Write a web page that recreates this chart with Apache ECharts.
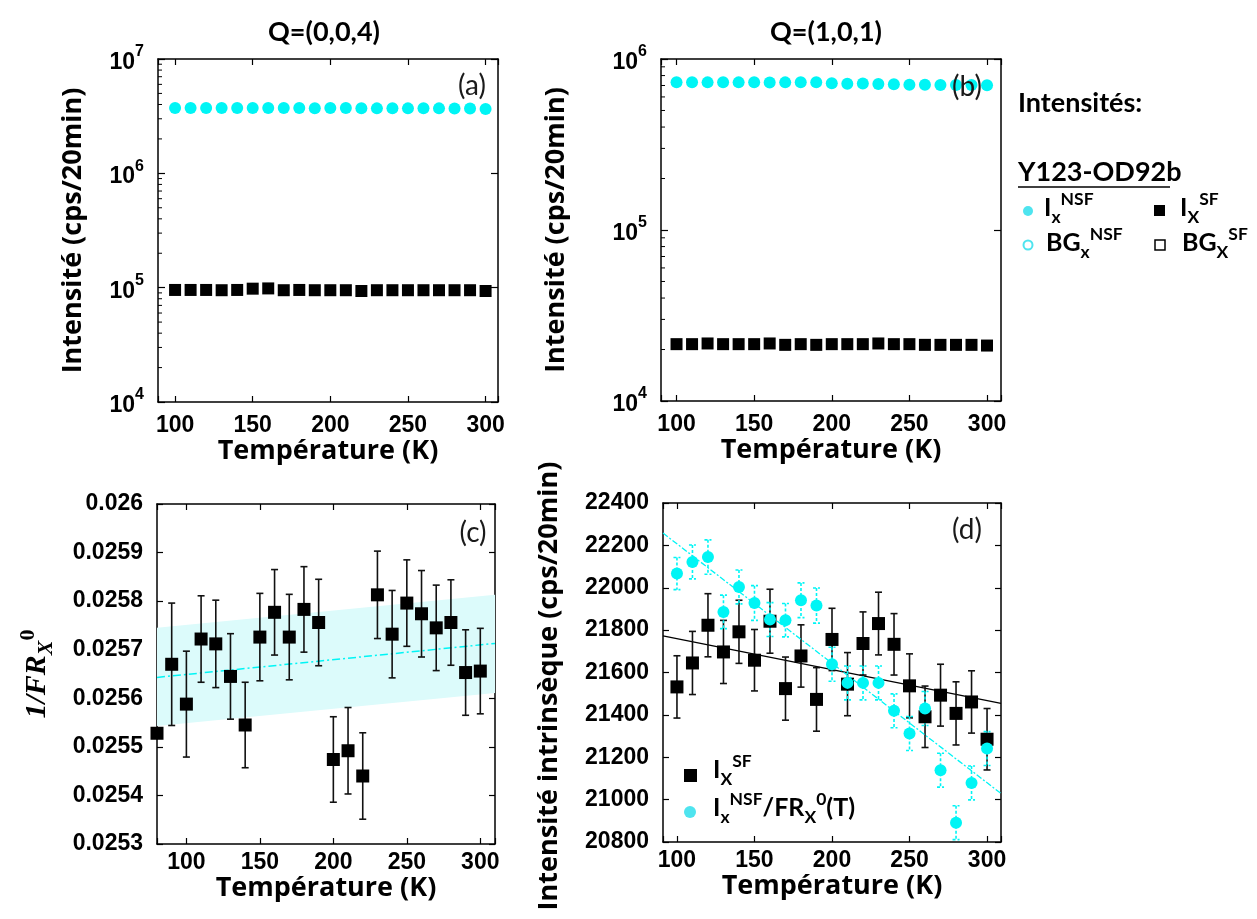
<!DOCTYPE html>
<html>
<head>
<meta charset="utf-8">
<script src="https://cdn.jsdelivr.net/npm/echarts@6/dist/echarts.min.js"></script>
<style>
  html, body { margin: 0; padding: 0; background: #fff; }
  #chart { width: 1257px; height: 919px; }
</style>
</head>
<body>
<div id="chart"></div>
<script>
// temperatures (K)
var tempAB = [100, 110, 120, 130, 140, 150, 160, 170, 180, 190, 200, 210, 220, 230, 240, 250, 260, 270, 280, 290, 300];
var tempC = [80, 90, 100, 110, 120, 130, 140, 150, 160, 170, 180, 190, 200, 210, 220, 230, 240, 250, 260, 270, 280, 290, 300];

// (a) Q=(0,0,4)
var nsfA = [3.73e6, 3.72e6, 3.72e6, 3.73e6, 3.72e6, 3.72e6, 3.73e6, 3.72e6, 3.72e6, 3.71e6, 3.72e6, 3.72e6, 3.71e6, 3.70e6, 3.71e6, 3.70e6, 3.71e6, 3.70e6, 3.69e6, 3.69e6, 3.66e6];
var sfA = [9.55e4, 9.55e4, 9.55e4, 9.5e4, 9.55e4, 9.8e4, 9.85e4, 9.5e4, 9.55e4, 9.5e4, 9.5e4, 9.5e4, 9.35e4, 9.5e4, 9.5e4, 9.5e4, 9.5e4, 9.5e4, 9.5e4, 9.5e4, 9.35e4];

// (b) Q=(1,0,1)
var nsfB = [7.32e5, 7.32e5, 7.30e5, 7.31e5, 7.30e5, 7.31e5, 7.29e5, 7.30e5, 7.32e5, 7.31e5, 7.21e5, 7.17e5, 7.18e5, 7.15e5, 7.12e5, 7.08e5, 7.06e5, 7.05e5, 7.05e5, 7.04e5, 7.03e5];
var sfB = [2.15e4, 2.15e4, 2.17e4, 2.15e4, 2.15e4, 2.15e4, 2.17e4, 2.13e4, 2.15e4, 2.13e4, 2.15e4, 2.15e4, 2.15e4, 2.17e4, 2.15e4, 2.15e4, 2.13e4, 2.13e4, 2.13e4, 2.13e4, 2.11e4];

// (c) 1/FR_X^0
var invFR = [0.025528, 0.025670, 0.025588, 0.025722, 0.025712, 0.025645, 0.025545, 0.025726, 0.025777, 0.025726, 0.025783, 0.025756, 0.025474, 0.025492, 0.025440, 0.025813, 0.025732, 0.025796, 0.025774, 0.025745, 0.025756, 0.025653, 0.025656];
var invFRErr = [null, 0.000126, 0.000109, 0.000089, 0.00009, 0.000088, 0.000088, 0.00009, 0.000088, 0.000088, 0.000088, 0.000089, 0.000088, 0.000089, 0.000089, 0.00009, 0.00009, 0.000089, 0.000089, 0.000088, 0.000088, 0.000088, 0.000088];
var fitCX = [80, 310];
var fitC = [0.025643, 0.025713];
var bandCLo = [0.025543, 0.025611];
var bandCHi = [0.025745, 0.025813];

// (d) intensite intrinseque
var sfD = [21532, 21645, 21823, 21697, 21792, 21658, 21842, 21524, 21678, 21473, 21756, 21545, 21737, 21831, 21733, 21537, 21391, 21493, 21407, 21461, 21285];
var sfDErr = [147, 149, 149, 149, 149, 145, 151, 149, 147, 150, 147, 149, 149, 148, 145, 151, 145, 146, 149, 147, 145];
var nsfD = [22067, 22122, 22145, 21886, 22004, 21928, 21850, 21847, 21941, 21916, 21639, 21551, 21551, 21551, 21419, 21312, 21430, 21139, 20891, 21079, 21241];
var nsfDErr = [76, 80, 81, 79, 80, 82, 80, 79, 82, 83, 80, 80, 80, 80, 80, 80, 80, 80, 80, 80, 80];
var fitDX = [91, 309];
var fitSfD = [21773, 21454];
var fitNsfD = [22258, 21029];

var CYAN = '#00f5f5';
var CYAN_TXT = '#4ee4ef';
var TICK_FONT = 'Liberation Sans';
var TXT_FONT = 'Lato';
var AXT_FONT = 'Open Sans';

function pairs(xs, ys) {
  return xs.map(function (x, i) { return [x, ys[i]]; });
}
function errData(xs, ys, es) {
  var out = [];
  xs.forEach(function (x, i) {
    if (es[i] != null) out.push([x, ys[i] - es[i], ys[i] + es[i]]);
  });
  return out;
}
function logMinors(lo, hi) {
  var out = [];
  for (var d = lo; d < hi; d *= 10) {
    for (var k = 2; k <= 9; k++) out.push(d * k);
  }
  return out;
}

function errRender(color, dash) {
  return function (params, api) {
    var x = api.value(0);
    var a = api.coord([x, api.value(2)]);
    var b = api.coord([x, api.value(1)]);
    var w = 3.5;
    var st = { stroke: color, lineWidth: 1.6, lineDash: dash || null };
    return {
      type: 'group',
      children: [
        { type: 'line', shape: { x1: a[0], y1: a[1], x2: b[0], y2: b[1] }, style: st },
        { type: 'line', shape: { x1: a[0] - w, y1: a[1], x2: a[0] + w, y2: a[1] }, style: st },
        { type: 'line', shape: { x1: b[0] - w, y1: b[1], x2: b[0] + w, y2: b[1] }, style: st }
      ]
    };
  };
}

function minorRender(xAt) {
  return function (params, api) {
    var p = api.coord([xAt, api.value(0)]);
    return {
      type: 'line',
      shape: { x1: p[0], y1: p[1], x2: p[0] + 4, y2: p[1] },
      style: { stroke: '#000', lineWidth: 1 }
    };
  };
}

var tickLabel = { color: '#000', fontFamily: TICK_FONT, fontWeight: 'bold', fontSize: 23 };
var nameStyle = { color: '#000', fontFamily: AXT_FONT, fontWeight: 'bold', fontSize: 27 };
var axLine = { show: true, lineStyle: { color: '#000', width: 1.5 } };

function xAxes(grid, min, max, margin, gap) {
  return [{
    type: 'value', gridIndex: grid, min: min, max: max, splitNumber: 4,
    position: 'bottom',
    axisLine: axLine, splitLine: { show: false },
    axisTick: { inside: true, length: 6, lineStyle: { color: '#000', width: 1.2 } },
    axisLabel: Object.assign({ margin: margin, formatter: function (v) { return v % 50 === 0 ? v : ''; } }, tickLabel),
    name: 'Température (K)', nameLocation: 'middle', nameGap: gap, nameTextStyle: nameStyle
  }, {
    type: 'value', gridIndex: grid, min: min, max: max, splitNumber: 4,
    position: 'top',
    axisLine: axLine, splitLine: { show: false },
    axisTick: { inside: true, length: 6, lineStyle: { color: '#000', width: 1.2 } },
    axisLabel: { show: false }
  }];
}

var supRich = {
  b: { fontFamily: TICK_FONT, fontWeight: 'bold', fontSize: 23, color: '#000', lineHeight: 30, verticalAlign: 'bottom' },
  sup: { fontFamily: TICK_FONT, fontWeight: 'bold', fontSize: 16, color: '#000', lineHeight: 16, verticalAlign: 'top' }
};

function logYAxes(grid, min, max, name, gap) {
  return [{
    type: 'log', logBase: 10, gridIndex: grid, min: min, max: max, position: 'left',
    axisLine: axLine, splitLine: { show: false },
    axisTick: { inside: true, length: 7, lineStyle: { color: '#000', width: 1.2 } },
    axisLabel: {
      margin: 14,
      formatter: function (v) { return '{b|10}{sup|' + Math.round(Math.log10(v)) + '}'; },
      rich: supRich
    },
    name: name, nameLocation: 'middle', nameGap: gap, nameRotate: 90, nameTextStyle: nameStyle
  }, {
    type: 'log', logBase: 10, gridIndex: grid, min: min, max: max, position: 'right',
    axisLine: axLine, splitLine: { show: false },
    axisTick: { inside: true, length: 7, lineStyle: { color: '#000', width: 1.2 } },
    axisLabel: { show: false }
  }];
}

function linYAxes(grid, min, max, interval, fmt, name, gap, nameTS) {
  return [{
    type: 'value', gridIndex: grid, min: min, max: max, interval: interval, position: 'left',
    axisLine: axLine, splitLine: { show: false },
    axisTick: { inside: true, length: 6, lineStyle: { color: '#000', width: 1.2 } },
    axisLabel: Object.assign({ margin: 14, formatter: fmt }, tickLabel),
    name: name, nameLocation: 'middle', nameGap: gap, nameRotate: 90, nameTextStyle: nameTS
  }, {
    type: 'value', gridIndex: grid, min: min, max: max, interval: interval, position: 'right',
    axisLine: axLine, splitLine: { show: false },
    axisTick: { inside: true, length: 6, lineStyle: { color: '#000', width: 1.2 } },
    axisLabel: { show: false }
  }];
}

var frRich = {
  f: { fontFamily: 'Liberation Serif', fontStyle: 'italic', fontWeight: 'bold', fontSize: 30, color: '#000', lineHeight: 40, verticalAlign: 'middle' },
  sub: { fontFamily: 'Liberation Serif', fontStyle: 'italic', fontWeight: 'bold', fontSize: 22, color: '#000', lineHeight: 22, verticalAlign: 'bottom' },
  sup: { fontFamily: 'Liberation Serif', fontWeight: 'bold', fontSize: 22, color: '#000', lineHeight: 22, verticalAlign: 'top' }
};

var xAxis = [].concat(
  xAxes(0, 89, 308, 12, 34),
  xAxes(1, 90, 309, 12, 34),
  xAxes(2, 80, 310, 7, 27),
  xAxes(3, 91, 309, 7, 27)
);
var yAxis = [].concat(
  logYAxes(0, 1e4, 1e7, 'Intensité (cps/20min)', 71),
  logYAxes(1, 1e4, 1e6, 'Intensité (cps/20min)', 91),
  linYAxes(2, 0.0253, 0.026, 0.0001, function (v) { return +v.toFixed(4) + ''; },
    '{f|1/FR}{sub|X}{sup|0}', 100, { rich: frRich }),
  linYAxes(3, 20800, 22400, 200, function (v) { return v; }, '', 0, nameStyle)
);

function sq(xi, yi, data, size) {
  return { type: 'scatter', xAxisIndex: xi, yAxisIndex: yi, data: data, symbol: 'rect', symbolSize: size || 12,
    itemStyle: { color: '#000', opacity: 1 }, silent: true, z: 5 };
}
function circ(xi, yi, data, size) {
  return { type: 'scatter', xAxisIndex: xi, yAxisIndex: yi, data: data, symbol: 'circle', symbolSize: size || 12,
    itemStyle: { color: CYAN, opacity: 1 }, silent: true, z: 6 };
}

var series = [
  // (a)
  { type: 'custom', xAxisIndex: 0, yAxisIndex: 0, data: logMinors(1e4, 1e7).map(function (v) { return [v]; }),
    renderItem: minorRender(89), encode: { y: 0 }, silent: true },
  circ(0, 0, pairs(tempAB, nsfA)),
  sq(0, 0, pairs(tempAB, sfA)),
  // (b)
  { type: 'custom', xAxisIndex: 2, yAxisIndex: 2, data: logMinors(1e4, 1e6).map(function (v) { return [v]; }),
    renderItem: minorRender(90), encode: { y: 0 }, silent: true },
  circ(2, 2, pairs(tempAB, nsfB)),
  sq(2, 2, pairs(tempAB, sfB)),
  // (c) confidence band
  { type: 'custom', xAxisIndex: 4, yAxisIndex: 4, data: [[0]], silent: true, z: 1,
    renderItem: function (params, api) {
      var pts = [];
      fitCX.forEach(function (x, i) { pts.push(api.coord([x, bandCHi[i]])); });
      for (var i = fitCX.length - 1; i >= 0; i--) pts.push(api.coord([fitCX[i], bandCLo[i]]));
      return { type: 'polygon', shape: { points: pts }, style: { fill: '#dcfbfb' } };
    } },
  { type: 'line', xAxisIndex: 4, yAxisIndex: 4, data: pairs(fitCX, fitC), showSymbol: false, silent: true, z: 2,
    lineStyle: { color: CYAN, width: 1.5, type: [8, 3, 2, 3] } },
  { type: 'custom', xAxisIndex: 4, yAxisIndex: 4, data: errData(tempC, invFR, invFRErr),
    renderItem: errRender('#111'), encode: { x: 0, y: [1, 2] }, silent: true, z: 3 },
  sq(4, 4, pairs(tempC, invFR), 13),
  // (d)
  { type: 'line', xAxisIndex: 6, yAxisIndex: 6, data: pairs(fitDX, fitSfD), showSymbol: false, silent: true, z: 2,
    lineStyle: { color: '#000', width: 1.3 } },
  { type: 'line', xAxisIndex: 6, yAxisIndex: 6, data: pairs(fitDX, fitNsfD), showSymbol: false, silent: true, z: 7,
    lineStyle: { color: CYAN, width: 1.3, type: [6, 2, 2, 2] } },
  { type: 'custom', xAxisIndex: 6, yAxisIndex: 6, data: errData(tempAB, sfD, sfDErr),
    renderItem: errRender('#111'), encode: { x: 0, y: [1, 2] }, silent: true, z: 3 },
  sq(6, 6, pairs(tempAB, sfD), 13),
  { type: 'custom', xAxisIndex: 6, yAxisIndex: 6, data: errData(tempAB, nsfD, nsfDErr),
    renderItem: errRender(CYAN, [3, 2]), encode: { x: 0, y: [1, 2] }, silent: true, z: 5 },
  circ(6, 6, pairs(tempAB, nsfD), 12)
];

function rt(color, size) {
  size = size || 25;
  return {
    b: { fontFamily: TXT_FONT, fontWeight: 'bold', fontSize: size, color: color, lineHeight: 36, verticalAlign: 'middle' },
    sub: { fontFamily: TXT_FONT, fontWeight: 'bold', fontSize: size * 0.7, color: color, lineHeight: size * 0.7, verticalAlign: 'bottom' },
    sup: { fontFamily: TXT_FONT, fontWeight: 'bold', fontSize: size * 0.7, color: color, lineHeight: size * 0.7, verticalAlign: 'top' }
  };
}
function richText(x, y, text, color, size) {
  return { type: 'text', left: x, top: y - 18, style: { text: text, rich: rt(color, size) }, z: 100 };
}
function plain(x, y, text, opts) {
  return { type: 'text', x: x, y: y, style: Object.assign({ text: text, fill: '#000', fontFamily: TXT_FONT,
    fontWeight: 'bold', fontSize: 26, align: 'center', verticalAlign: 'middle' }, opts || {}), z: 100 };
}

var graphic = [
  plain(324, 32, 'Q=(0,0,4)', { fontSize: 27 }),
  plain(826, 32, 'Q=(1,0,1)', { fontSize: 27 }),
  plain(472, 86, '(a)', { fontWeight: 'normal', fontSize: 28, fill: '#1a1a1a' }),
  plain(967, 87, '(b)', { fontWeight: 'normal', fontSize: 28, fill: '#1a1a1a' }),
  plain(473, 533, '(c)', { fontWeight: 'normal', fontSize: 28, fill: '#1a1a1a' }),
  plain(967, 530, '(d)', { fontWeight: 'normal', fontSize: 28, fill: '#1a1a1a' }),
  // y title of (d), placed like the original (slightly below the axis centre)
  { type: 'text', x: 549, y: 686, rotation: Math.PI / 2, z: 100,
    style: { text: 'Intensité intrinsèque (cps/20min)', fill: '#000', fontFamily: AXT_FONT, fontWeight: 'bold',
      fontSize: 27, align: 'center', verticalAlign: 'middle' } },
  // right-hand legend
  plain(1018, 103, 'Intensités:', { align: 'left', fontSize: 27 }),
  plain(1018, 172, 'Y123-OD92b', { align: 'left', fontSize: 27 }),
  { type: 'line', shape: { x1: 1018, y1: 187, x2: 1170, y2: 187 }, style: { stroke: '#000', lineWidth: 1.5 } },
  { type: 'circle', shape: { cx: 1028, cy: 211, r: 5 }, style: { fill: CYAN_TXT } },
  richText(1044, 208, '{b|I}{sub|x}{sup|NSF}', CYAN_TXT),
  { type: 'rect', shape: { x: 1154, y: 205, width: 11, height: 11 }, style: { fill: '#000' } },
  richText(1180, 208, '{b|I}{sub|X}{sup|SF}', '#000'),
  { type: 'circle', shape: { cx: 1028, cy: 245, r: 4.5 }, style: { fill: '#fff', stroke: CYAN_TXT, lineWidth: 2 } },
  richText(1046, 243, '{b|BG}{sub|x}{sup|NSF}', CYAN_TXT),
  { type: 'rect', shape: { x: 1155, y: 240, width: 10, height: 10 }, style: { fill: '#fff', stroke: '#000', lineWidth: 1.5 } },
  richText(1182, 243, '{b|BG}{sub|X}{sup|SF}', '#000'),
  // legend inside (d)
  { type: 'rect', shape: { x: 684, y: 769, width: 13, height: 13 }, style: { fill: '#000' } },
  richText(713, 770, '{b|I}{sub|X}{sup|SF}', '#000'),
  { type: 'circle', shape: { cx: 690, cy: 812, r: 6 }, style: { fill: CYAN_TXT } },
  richText(713, 808, '{b|I}{sub|x}{sup|NSF}{b|/FR}{sub|X}{sup|0}{b|(T)}', CYAN_TXT)
];

var chart = echarts.init(document.getElementById('chart'), null, { renderer: 'canvas' });
chart.setOption({
  animation: false,
  backgroundColor: '#fff',
  grid: [
    { left: 158, top: 59, width: 340, height: 343 },
    { left: 661, top: 59, width: 340, height: 342 },
    { left: 157, top: 504, width: 338, height: 340 },
    { left: 663, top: 503, width: 338, height: 339 }
  ],
  xAxis: xAxis,
  yAxis: yAxis,
  series: series,
  graphic: graphic
});
</script>
</body>
</html>
